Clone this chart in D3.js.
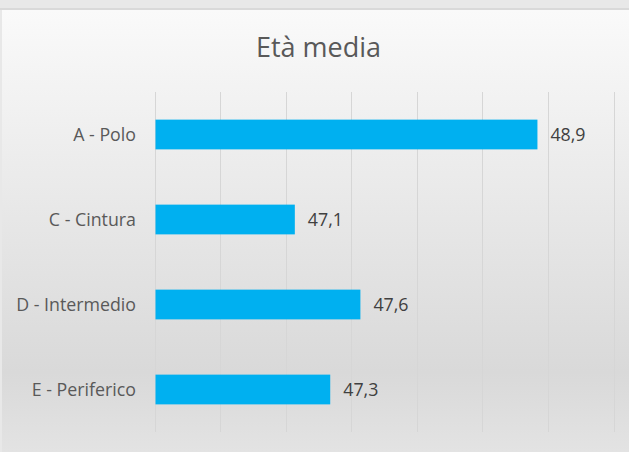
<!DOCTYPE html>
<html><head><meta charset="utf-8">
<script src="https://cdn.jsdelivr.net/npm/d3@7"></script>
<style>html,body{margin:0;padding:0;overflow:hidden;background:#e8e8e8}</style>
</head><body>
<svg id="c" width="629" height="452"></svg>
<script>
const title = "Età media";
const categories = ["A - Polo", "C - Cintura", "D - Intermedio", "E - Periferico"];
const values = [48.92, 47.07, 47.57, 47.34];
const axisDomain = [46, 49.5];

const fmt = v => d3.format(".1f")(v).replace(".", ",");

const svg = d3.select("#c");
const W = 629, H = 452;
const defs = svg.append("defs");
const g = defs.append("linearGradient").attr("id","bg").attr("x1",0).attr("y1",0).attr("x2",0).attr("y2",1);
g.append("stop").attr("offset","0%").attr("stop-color","#fafafa");
g.append("stop").attr("offset","82%").attr("stop-color","#d9d9d9");
g.append("stop").attr("offset","100%").attr("stop-color","#e3e3e3");

svg.append("rect").attr("width",W).attr("height",H).attr("fill","#e8e8e8");
svg.append("rect").attr("x",0).attr("y",8).attr("width",W).attr("height",2).attr("fill","#d9d9d9");
svg.append("rect").attr("x",2).attr("y",10).attr("width",W-2).attr("height",H-10).attr("fill","url(#bg)");

const x = d3.scaleLinear().domain(axisDomain).range([154.5, 613.5]);
const y = d3.scaleBand().domain(categories).range([92, 432]).paddingInner(0.65).paddingOuter(0.325);

const font = "'Open Sans', sans-serif";

svg.append("g").selectAll("line").data(x.ticks(7)).join("line")
  .attr("x1", d => Math.round(x(d)) + 0.5).attr("x2", d => Math.round(x(d)) + 0.5)
  .attr("y1", 92).attr("y2", 432)
  .attr("stroke", "#d6d6d6").attr("stroke-width", 1);

const data = categories.map((c,i) => ({c, v: values[i]}));

svg.append("g").selectAll("rect").data(data).join("rect")
  .attr("x", x(axisDomain[0]) + 1)
  .attr("y", d => y(d.c))
  .attr("width", d => x(d.v) - x(axisDomain[0]) - 1)
  .attr("height", y.bandwidth())
  .attr("fill", "#00b0f0");

svg.append("g").selectAll("text").data(data).join("text")
  .attr("x", 136).attr("y", d => y(d.c) + y.bandwidth()/2)
  .attr("dy", "0.36em").attr("text-anchor", "end")
  .attr("font-family", font).attr("font-size", 17.8).attr("fill", "#595959")
  .text(d => d.c);

svg.append("g").selectAll("text").data(data).join("text")
  .attr("x", d => x(d.v) + 13).attr("y", d => y(d.c) + y.bandwidth()/2)
  .attr("dy", "0.36em")
  .attr("font-family", font).attr("font-size", 17.8).attr("fill", "#404040")
  .text(d => fmt(d.v));

svg.append("text").attr("x", 318.5).attr("y", 56.5).attr("text-anchor","middle")
  .attr("font-family", font).attr("font-size", 27).attr("fill", "#595959")
  .text(title);
</script>
</body></html>
